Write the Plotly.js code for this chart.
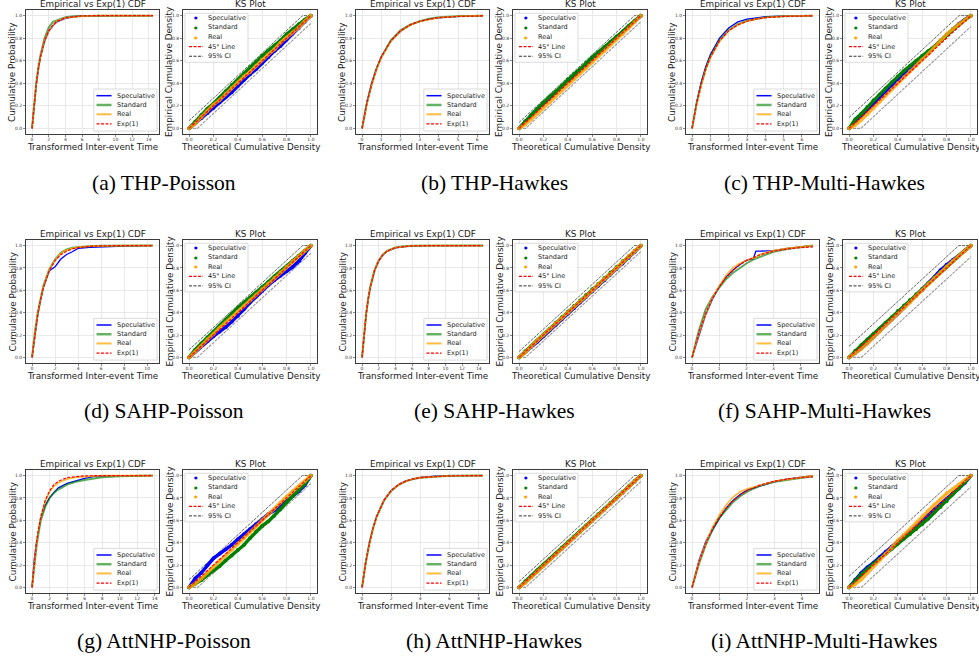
<!DOCTYPE html>
<html><head><meta charset="utf-8">
<script src="https://cdn.plot.ly/plotly-3.0.1.min.js"></script>
<style>html,body{margin:0;padding:0;background:#fff}#chart{width:979px;height:657px}</style>
</head><body><div id="chart"></div>
<script>
// ---------------- DATA ----------------
const captions = ['(a) THP-Poisson','(b) THP-Hawkes','(c) THP-Multi-Hawkes',
                  '(d) SAHP-Poisson','(e) SAHP-Hawkes','(f) SAHP-Multi-Hawkes',
                  '(g) AttNHP-Poisson','(h) AttNHP-Hawkes','(i) AttNHP-Multi-Hawkes'];
const cdfTitle = 'Empirical vs Exp(1) CDF';
const ksTitle = 'KS Plot';
const cdfXLabel = 'Transformed Inter-event Time';
const cdfYLabel = 'Cumulative Probability';
const ksXLabel = 'Theoretical Cumulative Density';
const ksYLabel = 'Empirical Cumulative Density';
const cdfLegendNames = ['Speculative','Standard','Real','Exp(1)'];
const ksLegendNames = ['Speculative','Standard','Real','45° Line','95% CI'];
const cdfDtick = [2,1,1,2,2,1,2,2,1];

const cdfX = [
 [0,0.25,0.5,0.75,1,1.5,2,2.5,3,4,5,6,8,10,12,14.5],
 [0,0.25,0.5,0.75,1,1.5,2,2.5,3,3.5,4,5,6.3],
 [0,0.25,0.5,0.75,1,1.5,2,2.5,3,3.5,4,5,6.6],
 [0,0.25,0.5,0.75,1,1.5,2,2.5,3,3.5,4,5,6,8,10.5],
 [0,0.25,0.5,0.75,1,1.5,2,2.5,3,4,5,6,8,10,12,14.5],
 [0,0.25,0.5,0.75,1,1.25,1.5,1.75,2,2.25,2.35,2.5,3,3.5,4,4.45],
 [0,0.25,0.5,0.75,1,1.5,2,2.5,3,4,5,6,7,8,10,13.8],
 [0,0.25,0.5,0.75,1,1.5,2,2.5,3,3.5,4,5,6,8.3],
 [0,0.25,0.5,0.75,1,1.25,1.5,1.75,2,2.25,2.5,3,3.5,4,4.4]
];
const cdfExp = [
 [0,.221,.393,.528,.632,.777,.865,.918,.950,.982,.993,.998,1,1,1,1],
 [0,.221,.393,.528,.632,.777,.865,.918,.950,.970,.982,.993,.998],
 [0,.221,.393,.528,.632,.777,.865,.918,.950,.970,.982,.993,.999],
 [0,.221,.393,.528,.632,.777,.865,.918,.950,.970,.982,.993,.998,1,1],
 [0,.221,.393,.528,.632,.777,.865,.918,.950,.982,.993,.998,1,1,1,1],
 [0,.221,.393,.528,.632,.713,.777,.826,.865,.895,.905,.918,.950,.970,.982,.988],
 [0,.221,.393,.528,.632,.777,.865,.918,.950,.982,.993,.998,.999,1,1,1],
 [0,.221,.393,.528,.632,.777,.865,.918,.950,.970,.982,.993,.998,1],
 [0,.221,.393,.528,.632,.713,.777,.826,.865,.895,.918,.950,.970,.982,.988]
];
const cdfSpeculative = [
 [0,.20,.38,.52,.63,.77,.86,.91,.945,.975,.99,.995,1,1,1,1],
 [0,.23,.40,.53,.635,.775,.86,.915,.948,.97,.98,.993,1],
 [0,.23,.41,.55,.655,.80,.89,.945,.97,.98,.99,.996,1],
 [0,.20,.38,.52,.63,.775,.81,.88,.92,.945,.975,.985,.99,.995,1],
 [0,.215,.39,.525,.63,.775,.862,.915,.948,.98,.992,.998,1,1,1,1],
 [0,.20,.38,.52,.63,.72,.78,.83,.87,.88,.95,.95,.955,.975,.985,1],
 [0,.25,.40,.52,.62,.735,.80,.85,.89,.93,.955,.975,.99,.995,1,1],
 [0,.225,.395,.53,.635,.78,.868,.92,.952,.97,.983,.994,.998,1],
 [0,.24,.41,.52,.62,.71,.78,.83,.87,.89,.91,.945,.97,.985,1]
];
const cdfStandard = [
 [0,.23,.40,.54,.645,.80,.895,.945,.96,.985,.995,.998,1,1,1,1],
 [0,.22,.39,.525,.63,.78,.87,.92,.95,.972,.985,.995,1],
 [0,.22,.39,.53,.635,.78,.87,.925,.955,.97,.985,.995,1],
 [0,.23,.40,.54,.645,.79,.875,.935,.965,.98,.985,.995,.998,1,1],
 [0,.225,.395,.53,.635,.78,.868,.92,.952,.983,.994,.998,1,1,1,1],
 [0,.24,.43,.54,.625,.70,.755,.80,.84,.875,.885,.90,.945,.97,.985,1],
 [0,.20,.36,.49,.60,.72,.80,.845,.875,.92,.945,.96,.975,.985,.995,1],
 [0,.218,.39,.525,.63,.775,.862,.916,.948,.97,.98,.992,.998,1],
 [0,.21,.38,.52,.625,.70,.765,.815,.855,.885,.91,.945,.965,.98,.995]
];
const cdfReal = [
 [0,.21,.39,.52,.63,.775,.86,.915,.95,.98,.99,.995,1,1,1,1],
 [0,.215,.385,.52,.625,.77,.86,.915,.948,.968,.982,.994,1],
 [0,.21,.38,.52,.625,.77,.865,.92,.95,.97,.983,.994,1],
 [0,.22,.39,.53,.635,.785,.87,.93,.96,.975,.985,.994,.998,1,1],
 [0,.22,.392,.528,.633,.778,.866,.918,.95,.982,.993,.998,1,1,1,1],
 [0,.21,.385,.53,.64,.735,.80,.84,.87,.885,.895,.92,.955,.975,.99,1],
 [0,.22,.39,.525,.63,.77,.855,.905,.935,.97,.985,.99,.995,1,1,1],
 [0,.22,.392,.527,.632,.777,.865,.918,.95,.97,.982,.993,.998,1],
 [0,.23,.40,.54,.65,.74,.81,.855,.88,.90,.915,.95,.97,.985,1]
];

const ksX = [0,.05,.1,.15,.2,.25,.3,.35,.4,.45,.5,.55,.6,.65,.7,.75,.8,.85,.9,.95,1];
const ksSpeculative = [
 [0,.045,.09,.135,.18,.23,.275,.32,.375,.43,.48,.525,.58,.63,.685,.73,.785,.84,.89,.945,1],
 [0,.06,.115,.17,.22,.265,.32,.37,.415,.47,.515,.56,.62,.665,.71,.76,.81,.855,.905,.95,1],
 [0,.055,.11,.165,.215,.27,.325,.375,.43,.475,.525,.575,.625,.67,.72,.775,.83,.88,.925,.965,1],
 [0,.05,.1,.145,.19,.23,.27,.32,.37,.43,.49,.545,.595,.645,.69,.73,.77,.81,.86,.93,1],
 [0,.045,.095,.14,.19,.24,.29,.34,.39,.44,.49,.54,.59,.64,.69,.74,.79,.84,.89,.945,1],
 [0,.04,.08,.13,.18,.235,.29,.34,.39,.445,.5,.55,.6,.66,.72,.78,.83,.87,.91,.955,1],
 [0,.08,.13,.2,.26,.3,.34,.38,.43,.475,.52,.565,.61,.655,.69,.73,.77,.815,.86,.915,1],
 [0,.045,.095,.145,.195,.245,.295,.345,.395,.445,.495,.545,.595,.645,.695,.745,.795,.845,.895,.945,1],
 [0,.07,.13,.18,.22,.27,.32,.365,.41,.455,.5,.55,.6,.65,.7,.745,.79,.84,.885,.935,1]
];
const ksStandard = [
 [0,.06,.12,.175,.22,.275,.33,.385,.43,.485,.54,.59,.645,.69,.735,.78,.835,.88,.925,.965,1],
 [0,.065,.12,.175,.23,.28,.325,.38,.435,.48,.525,.58,.63,.675,.72,.77,.815,.86,.91,.955,1],
 [0,.08,.13,.19,.25,.3,.355,.41,.46,.51,.555,.6,.645,.685,.725,.78,.825,.875,.92,.96,1],
 [0,.07,.125,.18,.23,.285,.335,.39,.445,.49,.535,.58,.63,.675,.725,.77,.815,.865,.91,.955,1],
 [0,.055,.105,.155,.205,.255,.31,.36,.41,.46,.51,.56,.61,.66,.71,.76,.81,.86,.905,.955,1],
 [0,.06,.11,.16,.21,.26,.31,.36,.415,.465,.515,.565,.615,.665,.715,.765,.815,.86,.91,.955,1],
 [0,.03,.065,.11,.15,.19,.24,.285,.335,.38,.44,.5,.55,.59,.64,.7,.76,.82,.87,.925,1],
 [0,.055,.105,.155,.205,.255,.305,.355,.405,.455,.505,.555,.605,.655,.705,.755,.805,.855,.905,.955,1],
 [0,.06,.115,.165,.21,.25,.3,.345,.39,.435,.475,.52,.565,.615,.67,.72,.77,.83,.885,.94,1]
];
const ksReal = [
 [0,.04,.1,.155,.21,.25,.305,.36,.405,.46,.5,.555,.61,.655,.7,.76,.805,.85,.895,.95,1],
 [0,.035,.08,.13,.185,.23,.28,.335,.39,.435,.485,.53,.585,.64,.685,.74,.79,.835,.89,.945,1],
 [0,.03,.075,.125,.18,.235,.29,.345,.4,.455,.505,.555,.61,.66,.72,.78,.835,.88,.92,.96,1],
 [0,.05,.1,.16,.21,.265,.31,.36,.41,.46,.51,.56,.61,.66,.71,.76,.81,.86,.905,.955,1],
 [0,.045,.1,.155,.2,.25,.305,.35,.4,.455,.5,.545,.6,.655,.7,.745,.8,.855,.9,.95,1],
 [0,.035,.075,.125,.18,.23,.285,.335,.39,.44,.49,.545,.6,.655,.71,.76,.81,.86,.905,.95,1],
 [0,.035,.08,.135,.185,.235,.285,.335,.39,.44,.49,.545,.6,.655,.705,.76,.81,.86,.905,.95,1],
 [0,.04,.09,.14,.19,.24,.29,.345,.395,.445,.495,.545,.595,.645,.695,.745,.795,.845,.895,.945,1],
 [0,.03,.07,.13,.19,.245,.3,.355,.42,.47,.52,.575,.63,.685,.74,.79,.84,.88,.92,.96,1]
];
const ciHalfWidth = [.068,.053,.097,.068,.053,.1,.07,.053,.1];
const diagonal = [0,1];

// ---------------- LAYOUT ----------------
const W=979, H=657;
const cdfCols=[[26,159],[356,489],[686,819]];
const ksCols=[[183,317],[513,647],[843,977]];
const rowsPx=[[10,134],[240,363],[470,593]];
const captionX=[164,494,824];
const captionY=[183,411,641];
const FONT='DejaVu Sans, sans-serif';
const C={spec:'#0000ff', std:'#008000', real:'#ffa500', exp:'#ff0000'};

const data=[];
const layout={width:W,height:H,margin:{l:0,r:0,t:0,b:0},paper_bgcolor:'#fff',plot_bgcolor:'#fff',
  showlegend:false,font:{family:FONT,color:'#222'},shapes:[],annotations:[],hovermode:false};

function axisStyle(isX){return {showline:true,mirror:true,linecolor:'#3c3c3c',linewidth:1.4,showgrid:true,
  gridcolor:'#e4e4e4',gridwidth:0.8,zeroline:false,ticks:'outside',ticklen:1.5,tickwidth:0.6,tickcolor:'#3c3c3c',
  tickfont:{size:4.5,color:'#333',family:FONT},fixedrange:true,tickmode:'linear',tick0:0,
  ticklabelstandoff: isX ? -1 : 0};}
const sfx = n => n===1 ? '' : String(n);

function addText(n, x, y, text, opts){
  layout.annotations.push(Object.assign({xref:'x'+sfx(n)+' domain', yref:'y'+sfx(n)+' domain', x:x, y:y,
    text:text, showarrow:false, font:{size:8.8,family:FONT,color:'#1a1a1a'}, borderpad:0}, opts||{}));
}
function addLegend(n, box, rows, sampleX, markerX, textX, entries){
  const xr='x'+sfx(n)+' domain', yr='y'+sfx(n)+' domain';
  layout.shapes.push({type:'rect',xref:xr,yref:yr,x0:box[0],x1:box[1],y0:box[2],y1:box[3],
    fillcolor:'rgba(255,255,255,0.85)',line:{color:'#d2d2d2',width:0.8},layer:'above'});
  entries.forEach((e,i)=>{
    if(e.kind==='line'){
      layout.shapes.push({type:'line',xref:xr,yref:yr,x0:sampleX[0],x1:sampleX[1],y0:rows[i],y1:rows[i],
        line:{color:e.color,width:e.width,dash:e.dash||'solid'},layer:'above'});
    } else {
      layout.annotations.push({xref:xr,yref:yr,x:markerX,y:rows[i],text:'●',showarrow:false,
        font:{size:4,color:e.color},xanchor:'center',yanchor:'middle'});
    }
    layout.annotations.push({xref:xr,yref:yr,x:textX,y:rows[i],text:e.label,showarrow:false,
      xanchor:'left',yanchor:'middle',font:{size:6.5,family:FONT,color:'#1a1a1a'},borderpad:0});
  });
}

for(let k=0;k<9;k++){
  const r=Math.floor(k/3), c=k%3;
  const [t,b]=rowsPx[r];
  const ydom=[1-b/H, 1-t/H];
  const n1=2*k+1, n2=2*k+2;
  const xmax=Math.max(...cdfX[k]);

  // ---- CDF panel ----
  layout['xaxis'+sfx(n1)]=Object.assign(axisStyle(true),{domain:[cdfCols[c][0]/W,cdfCols[c][1]/W],anchor:'y'+sfx(n1),
    range:[-0.05*xmax,1.05*xmax],dtick:cdfDtick[k]});
  layout['yaxis'+sfx(n1)]=Object.assign(axisStyle(false),{domain:ydom,anchor:'x'+sfx(n1),range:[-0.05,1.05],dtick:0.2,tickformat:'.1f'});
  const xa='x'+sfx(n1), ya='y'+sfx(n1);
  data.push({type:'scatter',mode:'lines',x:cdfX[k],y:cdfSpeculative[k],xaxis:xa,yaxis:ya,line:{color:C.spec,width:1.3},name:cdfLegendNames[0]});
  data.push({type:'scatter',mode:'lines',x:cdfX[k],y:cdfStandard[k],xaxis:xa,yaxis:ya,line:{color:'rgba(0,128,0,0.65)',width:2},name:cdfLegendNames[1]});
  data.push({type:'scatter',mode:'lines',x:cdfX[k],y:cdfReal[k],xaxis:xa,yaxis:ya,line:{color:'rgba(255,165,0,0.8)',width:1.6},name:cdfLegendNames[2]});
  data.push({type:'scatter',mode:'lines',x:cdfX[k],y:cdfExp[k],xaxis:xa,yaxis:ya,line:{color:C.exp,width:1.2,dash:'3px,1.5px'},name:cdfLegendNames[3]});
  addText(n1,0.5,1,cdfTitle,{yanchor:'middle',yshift:6});
  addText(n1,0.5,0,cdfXLabel,{yanchor:'middle',yshift:-13});
  addText(n1,0,0.5,cdfYLabel,{xanchor:'center',yanchor:'middle',xshift:-14,textangle:-90});
  addLegend(n1,[0.51,0.985,0.024,0.363],[0.309,0.234,0.159,0.081],[0.53,0.643],0.585,0.674,[
    {label:cdfLegendNames[0],kind:'line',color:C.spec,width:1.5},
    {label:cdfLegendNames[1],kind:'line',color:'rgba(0,128,0,0.6)',width:2.5},
    {label:cdfLegendNames[2],kind:'line',color:'rgba(255,165,0,0.75)',width:2},
    {label:cdfLegendNames[3],kind:'line',color:C.exp,width:1.2,dash:'3px,1.5px'}]);

  // ---- KS panel ----
  layout['xaxis'+sfx(n2)]=Object.assign(axisStyle(true),{domain:[ksCols[c][0]/W,ksCols[c][1]/W],anchor:'y'+sfx(n2),range:[-0.05,1.05],dtick:0.2,tickformat:'.1f'});
  layout['yaxis'+sfx(n2)]=Object.assign(axisStyle(false),{domain:ydom,anchor:'x'+sfx(n2),range:[-0.05,1.05],dtick:0.2,tickformat:'.1f'});
  const xb='x'+sfx(n2), yb='y'+sfx(n2);
  const d=ciHalfWidth[k];
  data.push({type:'scatter',mode:'lines',x:[0,1-d,1],y:[d,1,1],xaxis:xb,yaxis:yb,line:{color:'#555',width:0.9,dash:'3px,1px'},name:'95% CI'});
  data.push({type:'scatter',mode:'lines',x:[0,d,1],y:[0,0,1-d],xaxis:xb,yaxis:yb,line:{color:'#999',width:1.1,dash:'3px,1px'},name:'95% CI'});
  data.push({type:'scatter',mode:'lines+markers',x:ksX,y:ksSpeculative[k],xaxis:xb,yaxis:yb,line:{color:C.spec,width:3.4},marker:{color:C.spec,size:3.8},name:ksLegendNames[0]});
  data.push({type:'scatter',mode:'lines+markers',x:ksX,y:ksStandard[k],xaxis:xb,yaxis:yb,line:{color:C.std,width:3.4},marker:{color:C.std,size:3.8},name:ksLegendNames[1]});
  data.push({type:'scatter',mode:'lines+markers',x:ksX,y:ksReal[k],xaxis:xb,yaxis:yb,opacity:0.85,line:{color:C.real,width:3.4},marker:{color:C.real,size:3.8},name:ksLegendNames[2]});
  data.push({type:'scatter',mode:'lines',x:diagonal,y:diagonal,xaxis:xb,yaxis:yb,line:{color:C.exp,width:1.2,dash:'3px,1.5px'},name:ksLegendNames[3]});
  addText(n2,0.5,1,ksTitle,{yanchor:'middle',yshift:6});
  addText(n2,0.5,0,ksXLabel,{yanchor:'middle',yshift:-13});
  addText(n2,0,0.5,ksYLabel,{xanchor:'center',yanchor:'middle',xshift:-14,textangle:-90});
  addLegend(n2,[0.015,0.485,0.578,0.973],[0.938,0.860,0.782,0.704,0.627],[0.045,0.15],0.10,0.18,[
    {label:ksLegendNames[0],kind:'marker',color:C.spec},
    {label:ksLegendNames[1],kind:'marker',color:C.std},
    {label:ksLegendNames[2],kind:'marker',color:C.real},
    {label:ksLegendNames[3],kind:'line',color:C.exp,width:1.2,dash:'3px,1.5px'},
    {label:ksLegendNames[4],kind:'line',color:'#333',width:1,dash:'3px,1.5px'}]);

  // caption
  layout.annotations.push({xref:'paper',yref:'paper',x:captionX[c]/W,y:1-captionY[r]/H,text:captions[k],showarrow:false,
    xanchor:'center',yanchor:'middle',font:{family:'Liberation Serif, Times New Roman, serif',size:21.5,color:'#000'}});
}

Plotly.newPlot('chart',data,layout,{staticPlot:true,displayModeBar:false});
</script></body></html>
